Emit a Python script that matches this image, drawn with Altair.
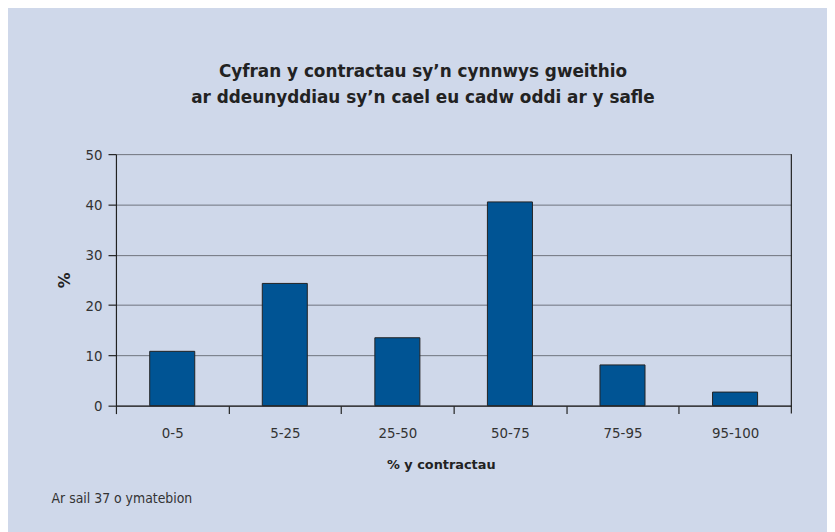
import altair as alt
import pandas as pd

categories = ["0-5", "5-25", "25-50", "50-75", "75-95", "95-100"]
values = [10.8, 24.3, 13.5, 40.5, 8.1, 2.7]
title_lines = ["Cyfran y contractau sy\u2019n cynnwys gweithio",
               "ar ddeunyddiau sy\u2019n cael eu cadw oddi ar y safle"]
x_title = "% y contractau"
y_title = "%"
footnote = ["Ar sail 37 o ymatebion"]

W, H = 682, 254
STEP = W / len(categories)
BG = "#CFD8EA"
NARROW = "DejaVu Sans Condensed"
BOLD = "DejaVu Sans"

df = pd.DataFrame({"cat": categories, "val": values})

bars = alt.Chart(df).mark_bar(color="#005494", stroke="#222222", strokeWidth=1).encode(
    x=alt.X("cat:N", sort=categories,
            scale=alt.Scale(paddingInner=0.6, paddingOuter=0.3),
            axis=alt.Axis(title=x_title, labelAngle=0, tickOffset=-STEP / 2,
                          labelOffset=STEP / 2, tickSize=8, labelPadding=12,
                          titleX=328, titleY=59, titleBaseline="middle",
                          titleFont=BOLD, titleFontWeight="bold", titleFontSize=13,
                          titleColor="#222222")),
    y=alt.Y("val:Q", scale=alt.Scale(domain=[0, 50], nice=False),
            axis=alt.Axis(title=y_title, values=[0, 10, 20, 30, 40, 50], tickSize=8,
                          labelPadding=6, grid=True, gridColor="#6E727C", gridWidth=1,
                          titleX=-52, titleY=H / 2, titleAngle=-90, titleAlign="center",
                          titleBaseline="middle", titleFont=BOLD, titleFontWeight="bold",
                          titleFontSize=16, titleColor="#222222")),
)

border = alt.Chart(pd.DataFrame({"k": [0]})).mark_rule(color="#222222", strokeWidth=1.2).encode(
    x=alt.value(W), y=alt.value(0), y2=alt.value(H + 8)
)

note = alt.Chart(pd.DataFrame({"t": footnote})).mark_text(
    align="left", baseline="middle", font=NARROW, fontSize=14, color="#333333"
).encode(text="t:N", x=alt.value(-65), y=alt.value(348))

chart = alt.layer(bars, border, note).properties(
    width=W, height=H,
    autosize=alt.AutoSizeParams(type="none"),
    padding={"left": 109, "top": 145, "right": 36, "bottom": 125},
    background=BG,
    title=alt.TitleParams(text=title_lines, font=BOLD, fontSize=17, fontWeight="bold",
                          color="#222222", anchor="middle", lineHeight=26, offset=41,
                          dx=-31),
).configure_view(stroke="transparent").configure_axis(
    domainColor="#222222", tickColor="#222222", labelFont=NARROW, labelFontSize=15,
    labelColor="#333333", domainWidth=1.2, tickWidth=1.2
)

chart.save("out.html", embed_options={"renderer": "svg", "actions": False})
